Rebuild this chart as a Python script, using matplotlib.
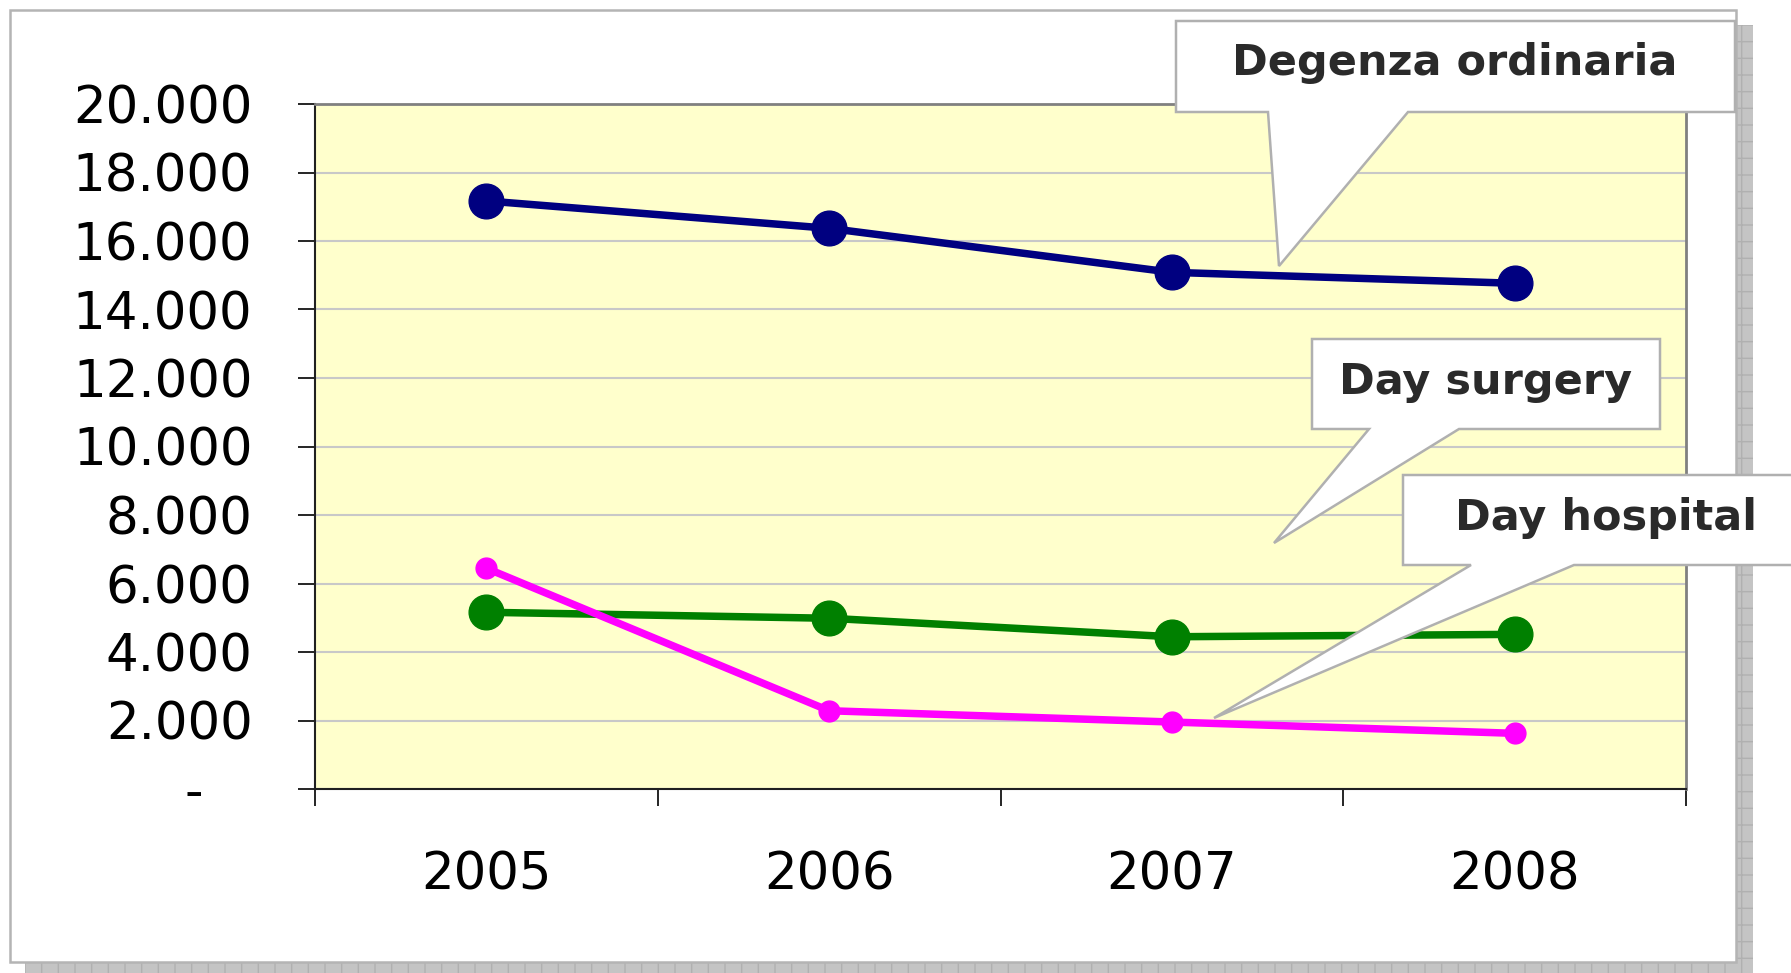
import matplotlib.pyplot as plt
from matplotlib.patches import Polygon, Rectangle
from matplotlib.ticker import FuncFormatter

# Data
years = ["2005", "2006", "2007", "2008"]
degenza = [17170, 16370, 15085, 14765]
day_surgery = [5160, 4985, 4445, 4515]
day_hospital = [6445, 2285, 1955, 1625]

W, H = 1791, 973
fig = plt.figure(figsize=(W / 100, H / 100), dpi=100)
fig.patch.set_facecolor("white")


def fx(x):
    return x / W


def fy(y):
    return 1 - y / H


# drop shadow and outer frame
fig.add_artist(Rectangle((fx(25), fy(975)), fx(1753 - 25), (975 - 25) / H,
                         transform=fig.transFigure, facecolor="#c4c4c4",
                         edgecolor="#b0b0b0", hatch="+", linewidth=0,
                         zorder=-3))
fig.add_artist(Rectangle((fx(10), fy(962)), fx(1736 - 10), (962 - 10) / H,
                         transform=fig.transFigure, facecolor="white",
                         edgecolor="#b4b4b4", linewidth=1.8, zorder=-2))

ax = fig.add_axes([fx(315), fy(789), fx(1686 - 315), (789 - 104) / H])
ax.set_facecolor("#ffffcc")

x = range(len(years))
ax.plot(x, degenza, color="#000080", lw=5.4, marker="o", ms=25, zorder=3)
ax.plot(x, day_surgery, color="#008000", lw=5.4, marker="o", ms=25, zorder=3)
ax.plot(x, day_hospital, color="#ff00ff", lw=5.4, marker="o", ms=15, zorder=4)

ax.set_xlim(-0.5, len(years) - 0.5)
ax.set_ylim(0, 20000)
ax.set_yticks(range(0, 20001, 2000))
ax.yaxis.set_major_formatter(FuncFormatter(
    lambda v, p: "-   " if v == 0 else f"{int(v):,}".replace(",", ".")))
ax.grid(axis="y", color="#c8c8c8", lw=1.5)
ax.set_axisbelow(True)

# category labels at centres, tick marks at boundaries
ax.set_xticks(list(x))
ax.set_xticklabels(years)
ax.set_xticks([i - 0.5 for i in range(len(years) + 1)], minor=True)
ax.tick_params(axis="x", which="major", length=0, pad=44, labelsize=37)
ax.tick_params(axis="x", which="minor", length=12, width=1.2, direction="out")
ax.tick_params(axis="y", length=12, width=1.2, direction="out", pad=33,
               labelsize=37)

for s in ["left", "bottom"]:
    ax.spines[s].set_color("#202020")
    ax.spines[s].set_linewidth(1.5)
for s in ["top", "right"]:
    ax.spines[s].set_color("#808080")
    ax.spines[s].set_linewidth(2)


def callout(box, base, tip, text, text_xy):
    l, t, r, b = box
    pts = [(l, t), (r, t), (r, b), (base[1], b), tip, (base[0], b), (l, b)]
    fig.add_artist(Polygon([(fx(px), fy(py)) for px, py in pts], closed=True,
                           transform=fig.transFigure, facecolor="white",
                           edgecolor="#b0b0b0", linewidth=1.8, zorder=5))
    fig.text(fx(text_xy[0]), fy(text_xy[1]), text, ha="center", va="center",
             fontsize=31, fontweight="bold", color="#2a2a2a", zorder=6)


callout((1176, 21, 1735, 112), (1268, 1408), (1279, 266),
        "Degenza ordinaria", (1455, 63))
callout((1312, 339, 1660, 429), (1369, 1459), (1274, 543),
        "Day surgery", (1486, 382))
callout((1403, 475, 1800, 565), (1471, 1574), (1214, 718),
        "Day hospital", (1606, 518))

fig.savefig("out.png", dpi=100)
